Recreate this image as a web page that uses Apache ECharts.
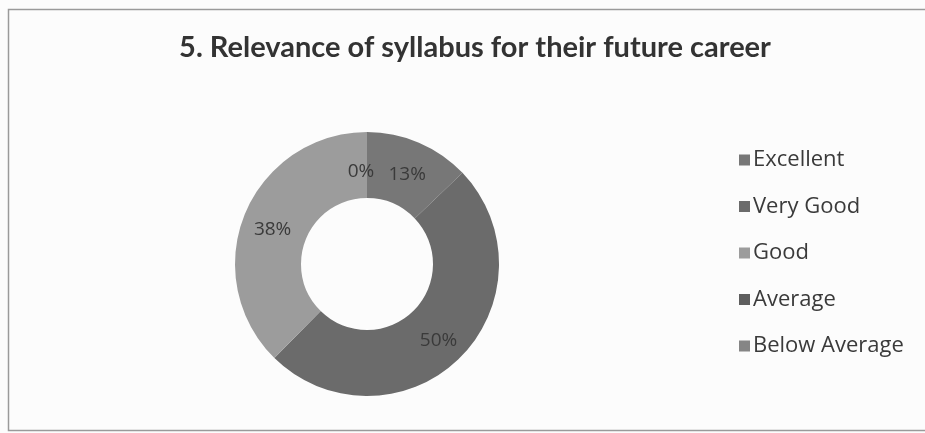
<!DOCTYPE html>
<html>
<head>
<meta charset="utf-8">
<script src="https://cdn.jsdelivr.net/npm/echarts@6/dist/echarts.min.js"></script>
<style>
html,body{margin:0;padding:0;background:#fcfcfc;}
#chart{width:925px;height:433px;}
</style>
</head>
<body>
<div id="chart"></div>
<script>
const titleText = '5. Relevance of syllabus for their future career';
const categories = ['Excellent', 'Very Good', 'Good', 'Average', 'Below Average'];
const percentValues = [13, 50, 38, 0, 0];
const sliceColors = ['#777777', '#6b6b6b', '#9c9c9c', '#5e5e5e', '#858585'];

const chart = echarts.init(document.getElementById('chart'));
const data = categories.map((c, i) => ({
  name: c,
  value: percentValues[i],
  itemStyle: { color: sliceColors[i] },
  label: percentValues[i] === 0 ? { offset: [-6, 10], show: i === 3 } : { offset: [0, 4] }
}));

chart.setOption({
  backgroundColor: '#fcfcfc',
  animation: false,
  title: {
    text: titleText,
    left: 470,
    textAlign: 'center',
    top: 28,
    textStyle: { fontFamily: 'Lato', fontWeight: 'bold', fontSize: 29, color: '#333' }
  },
  legend: {
    orient: 'vertical',
    left: 734,
    top: 140,
    itemWidth: 11,
    itemHeight: 11,
    itemGap: 16.5,
    icon: 'rect',
    data: categories,
    textStyle: { fontFamily: 'Open Sans', fontSize: 22, lineHeight: 30, color: '#3a3a3a', padding: [0, 0, 0, -2] }
  },
  graphic: [{
    type: 'rect',
    shape: { x: 8.5, y: 9.5, width: 930, height: 421 },
    style: { fill: 'none', stroke: '#9a9a9a', lineWidth: 1.5 },
    silent: true
  }],
  series: [{
    type: 'pie',
    center: [367, 264],
    radius: [66, 132],
    startAngle: 90,
    clockwise: true,
    data: data,
    label: {
      show: true,
      position: 'inside',
      formatter: p => p.value + '%',
      fontFamily: 'Open Sans',
      fontSize: 19,
      color: '#3a3a3a'
    },
    labelLine: { show: false },
    emphasis: { disabled: true }
  }]
});
</script>
</body>
</html>
